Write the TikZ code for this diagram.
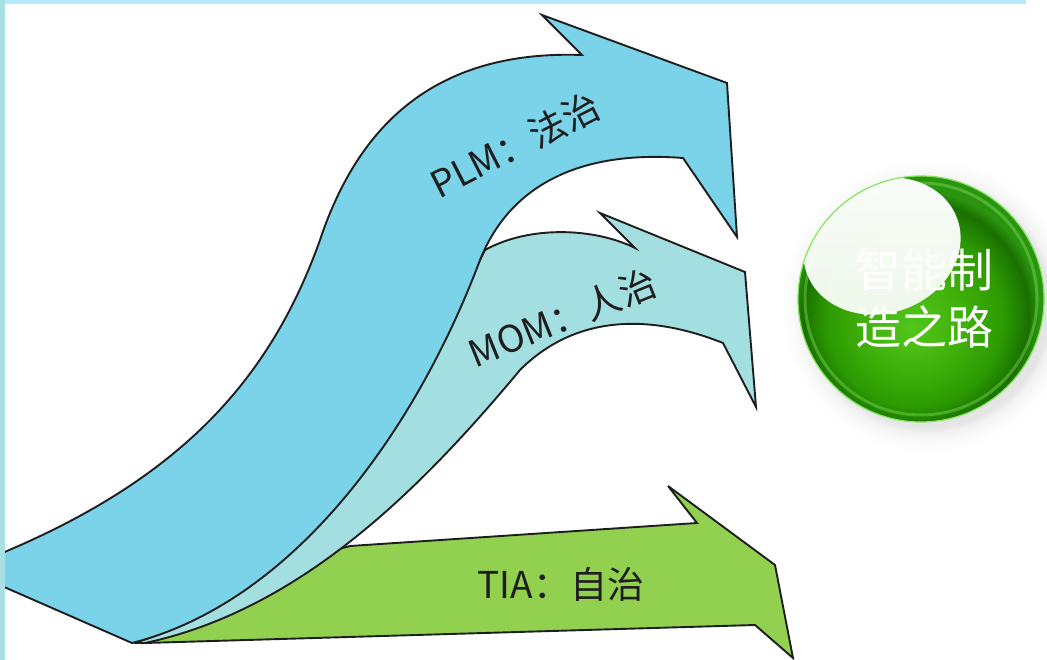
\documentclass[tikz,border=0pt]{standalone}
\usepackage{fontspec}
\setmainfont{Noto Sans CJK SC}
\definecolor{plmblue}{HTML}{7AD3E8}
\definecolor{momteal}{HTML}{A3DFE0}
\definecolor{tiagreen}{HTML}{92D050}
\definecolor{topbar}{HTML}{B5E9FB}
\definecolor{leftbar}{HTML}{A8E0E4}
\definecolor{outline}{HTML}{1E1E1E}
\definecolor{sA}{HTML}{52C61C}
\definecolor{sB}{HTML}{40B00A}
\definecolor{sC}{HTML}{2C9A02}
\definecolor{sD}{HTML}{197000}
\definecolor{sE}{HTML}{2A9410}
\definecolor{rimlight}{HTML}{86E65E}
\pgfdeclareradialshading{sphereshade}{\pgfpoint{-2bp}{-6bp}}{color(0bp)=(sA); color(10bp)=(sB); color(18bp)=(sC); color(23bp)=(sD); color(25bp)=(sE); color(50bp)=(sE)}
\pgfdeclareradialshading{glowshade}{\pgfpoint{0bp}{0bp}}{color(0bp)=(black!12); color(20.5bp)=(black!10); color(21.5bp)=(black!5); color(23bp)=(black!2); color(25bp)=(white); color(50bp)=(white)}
\begin{document}
\begin{tikzpicture}[x=1pt,y=-1pt,
  band/.style={draw=outline, line width=1.9pt, line join=miter, miter limit=6},
  label/.style={text=outline, font=\fontsize{37}{42}\selectfont, inner sep=0pt},
  balltext/.style={text=white, font=\fontsize{46}{57}\selectfont, align=center, inner sep=0pt}]
\useasboundingbox (0,0) rectangle (1047,660);
\fill[white] (0,0) rectangle (1047,660);

% green TIA arrow
\path[band, fill=tiagreen] (145,643) -- (755,625) -- (793,658) -- (775,565) -- (668,486) -- (697,523) -- (350,546)
  .. controls (260,570) and (200,610) .. (145,643) -- cycle;
% MOM arrow
\path[band, fill=momteal] (134,643) .. controls (280,600) and (400,420) .. (485,250)
  .. controls (530,225) and (595,228) .. (635,248) -- (600,213) -- (745,272) -- (756,407) -- (723,343)
  .. controls (640,310) and (570,320) .. (520,370)
  .. controls (420,490) and (300,610) .. (145,643) -- cycle;
% PLM arrow
\path[band, fill=plmblue] (132,643) -- (-5,583) -- (-5,556)
  .. controls (180,480) and (270,380) .. (320,240)
  .. controls (360,120) and (440,50) .. (582,55)
  -- (542,15) -- (727,83) -- (737,237) -- (683,158)
  .. controls (580,150) and (510,185) .. (480,260)
  .. controls (420,420) and (300,600) .. (132,643) -- cycle;

\node[label, rotate=27] (plm) at (515,145) {PLM：法治};
\node[label, rotate=22] (mom) at (562,318) {MOM：人治};
\node[label] (tia) at (561,584) {TIA：自治};

% sphere
\shade[shading=glowshade] (928,306) circle (148pt);
\shade[shading=sphereshade] (921,299) circle (123pt);
\begin{scope}
  \clip (921,299) circle (123pt);
  \draw[rimlight, line width=3pt, opacity=0.4] (921,299) circle (116pt);
  \shade[top color=white, bottom color=white!93!sB, opacity=0.98, rotate around={20:(882,246)}]
    (882,246) ellipse [x radius=80pt, y radius=67pt];
\end{scope}
\draw[rimlight, line width=1.2pt] (921,299) circle (123pt);
\node[balltext] (ball) at (924,298) {智能制\\造之路};

% borders
\fill[topbar] (0,0) rectangle (1026,4);
\fill[leftbar] (0,0) rectangle (5,660);
\end{tikzpicture}
\end{document}
